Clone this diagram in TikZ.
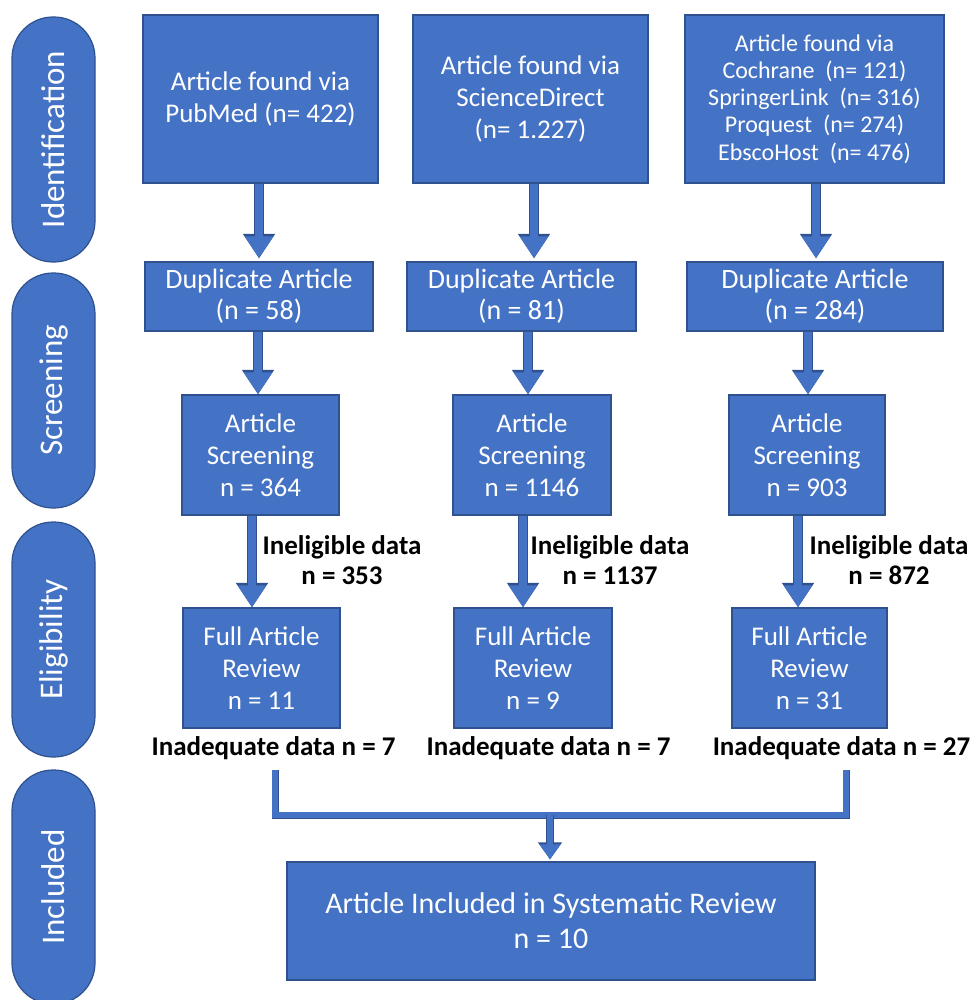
\documentclass[tikz,border=0pt]{standalone}
\usepackage{fontspec}
\setmainfont{Carlito}
\usetikzlibrary{arrows.meta}
\definecolor{boxblue}{HTML}{4472C4}
\definecolor{edgeblue}{HTML}{2F528F}
\begin{document}
\begin{tikzpicture}[x=1pt,y=-1pt,
  box/.style={draw=edgeblue, line width=1.2pt, fill=boxblue, text=white, align=center, inner sep=0pt, font=\fontsize{27}{32}\selectfont},
  pill/.style={draw=edgeblue, line width=1.2pt, fill=boxblue, text=white, rounded corners=41pt, rotate=90, inner sep=0pt, minimum height=83pt, font=\fontsize{33}{40}\selectfont},
  lab/.style={align=center, inner sep=0pt, font=\bfseries\fontsize{27}{30}\selectfont},
  flow/.style={preaction={draw=edgeblue, line width=10.5pt, -{Triangle[width=30.5pt,length=24.5pt]}}, draw=boxblue, line width=8.5pt, -{Triangle[width=27pt,length=22pt]}},
  mflow/.style={preaction={draw=edgeblue, line width=8pt, -{Triangle[width=23pt,length=17pt]}}, draw=boxblue, line width=6.5pt, -{Triangle[width=20pt,length=15pt]}},
  bracketline/.style={preaction={draw=edgeblue, line width=7pt, line join=miter}, draw=boxblue, line width=5.5pt, line join=miter}
]
\useasboundingbox (0,0) rectangle (972,1000);

% phase pills
\node[pill, minimum width=245pt] (pid) at (53.5,139.5) {Identification};
\node[pill, minimum width=235pt] (psc) at (53.5,390.5) {Screening};
\node[pill, minimum width=235pt] (pel) at (53.5,639.5) {Eligibility};
\node[pill, minimum width=234pt] (pin) at (53.5,887) {Included};

% sources
\node[box, minimum width=235pt, minimum height=168pt] (src1) at (260.5,99) {Article found via\\PubMed (n= 422)};
\node[box, minimum width=235pt, minimum height=168pt] (src2) at (530.5,99) {Article found via\\ScienceDirect\\(n= 1.227)};
\node[box, minimum width=259pt, minimum height=168pt, font=\fontsize{24}{27.3}\selectfont] (src3) at (814.5,99) {Article found via\\Cochrane\ \ (n= 121)\\SpringerLink\ \ (n= 316)\\Proquest\ \ (n= 274)\\EbscoHost\ \ (n= 476)};

% duplicates
\node[box, minimum width=228pt, minimum height=69pt, font=\fontsize{28}{31}\selectfont] (dup1) at (259,296.5) {Duplicate Article\\(n = 58)};
\node[box, minimum width=229pt, minimum height=69pt, font=\fontsize{28}{31}\selectfont] (dup2) at (521.5,296.5) {Duplicate Article\\(n = 81)};
\node[box, minimum width=256pt, minimum height=69pt, font=\fontsize{28}{31}\selectfont] (dup3) at (815,296.5) {Duplicate Article\\(n = 284)};

% screening
\node[box, minimum width=157pt, minimum height=120pt] (scr1) at (260.5,455) {Article\\Screening\\n = 364};
\node[box, minimum width=158pt, minimum height=120pt] (scr2) at (532,455) {Article\\Screening\\n = 1146};
\node[box, minimum width=156pt, minimum height=120pt] (scr3) at (807,455) {Article\\Screening\\n = 903};

% full review
\node[box, minimum width=157pt, minimum height=120pt] (full1) at (261.5,668) {Full Article\\Review\\n = 11};
\node[box, minimum width=158pt, minimum height=120pt] (full2) at (533,668) {Full Article\\Review\\n = 9};
\node[box, minimum width=155pt, minimum height=120pt] (full3) at (809.5,668) {Full Article\\Review\\n = 31};

% final
\node[box, minimum width=528pt, minimum height=118pt, font=\fontsize{30}{35}\selectfont] (final) at (551,921) {Article Included in Systematic Review\\n = 10};

% labels
\node[lab] (inel1) at (342,560) {Ineligible data\\n = 353};
\node[lab] (inel2) at (610,560) {Ineligible data\\n = 1137};
\node[lab] (inel3) at (889,560) {Ineligible data\\n = 872};
\node[lab] (inad1) at (273.5,748) {Inadequate data n = 7};
\node[lab] (inad2) at (548.5,748) {Inadequate data n = 7};
\node[lab] (inad3) at (841.5,748) {Inadequate data n = 27};

% arrows
\draw[flow, shorten >=3pt] ([xshift=-1.5pt]src1.south) -- ([xshift=-1.5pt]src1.south |- dup1.north);
\draw[flow, shorten >=3pt] ([xshift=3.5pt]src2.south) -- ([xshift=3.5pt]src2.south |- dup2.north);
\draw[flow, shorten >=3pt] ([xshift=1.5pt]src3.south) -- ([xshift=1.5pt]src3.south |- dup3.north);

\draw[flow] ([xshift=-1pt]dup1.south) -- ([xshift=-1pt]dup1.south |- scr1.north);
\draw[flow] ([xshift=6.5pt]dup2.south) -- ([xshift=6.5pt]dup2.south |- scr2.north);
\draw[flow] ([xshift=-7pt]dup3.south) -- ([xshift=-7pt]dup3.south |- scr3.north);

\draw[flow] ([xshift=-8.5pt]scr1.south) -- ([xshift=-8.5pt]scr1.south |- full1.north);
\draw[flow] ([xshift=-9pt]scr2.south) -- ([xshift=-9pt]scr2.south |- full2.north);
\draw[flow] ([xshift=-9pt]scr3.south) -- ([xshift=-9pt]scr3.south |- full3.north);

% merge bracket
\coordinate (bl) at (275,770);
\coordinate (br) at (846,770);
\coordinate (mg) at (550,815);
\draw[bracketline] (bl) -- (bl |- mg) -- (br |- mg) -- (br);
\draw[mflow, shorten >=2pt] (mg) -- (mg |- final.north);
\end{tikzpicture}
\end{document}
